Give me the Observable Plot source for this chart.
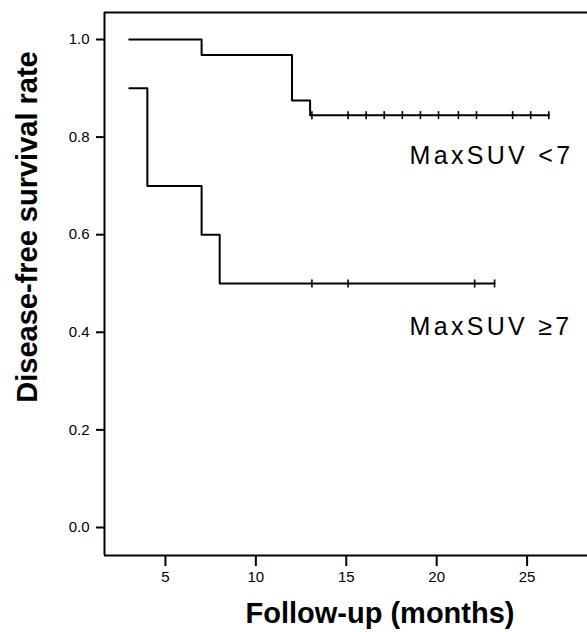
<!DOCTYPE html>
<html>
<head>
<meta charset="utf-8">
<script src="https://cdn.jsdelivr.net/npm/d3@7"></script>
<script src="https://cdn.jsdelivr.net/npm/@observablehq/plot@0.6"></script>
<style>
  html, body { margin: 0; padding: 0; background: #fff; }
  #chart svg { display: block; }
</style>
</head>
<body>
<div id="chart"></div>
<script>
// Kaplan–Meier step data (months, survival rate)
const lowSuvTime = [3, 7, 12, 13, 26.2];
const lowSuvSurv = [1.0, 0.968, 0.875, 0.845, 0.845];
const highSuvTime = [3, 4, 7, 8, 23.2];
const highSuvSurv = [0.9, 0.7, 0.6, 0.5, 0.5];
// censored observations (months)
const lowSuvCensor = [13.1, 15.1, 16.1, 17.1, 18.1, 19.1, 20.1, 21.2, 22.2, 24.2, 25.2, 26.2];
const lowSuvCensorSurv = 0.845;
const highSuvCensor = [13.1, 15.1, 22.1, 23.2];
const highSuvCensorSurv = 0.5;
// group labels
const groupLabels = ["MaxSUV <7", "MaxSUV \u22657"];
const groupLabelX = [18.5, 18.5];
const groupLabelY = [0.761, 0.41];
// axes
const xTicks = [5, 10, 15, 20, 25];
const yTicks = [0, 0.2, 0.4, 0.6, 0.8, 1.0];
const xDomain = [1.63, 28.34];
const yDomain = [-0.0574, 1.0553];
const xTitle = "Follow-up (months)";
const yTitle = "Disease-free survival rate";

const lowLine = lowSuvTime.map((t, i) => ({t, s: lowSuvSurv[i]}));
const highLine = highSuvTime.map((t, i) => ({t, s: highSuvSurv[i]}));
const censors = [
  ...lowSuvCensor.map(t => ({t, s: lowSuvCensorSurv})),
  ...highSuvCensor.map(t => ({t, s: highSuvCensorSurv}))
];
const labels = groupLabels.map((text, i) => ({text, x: groupLabelX[i], y: groupLabelY[i]}));

const vbar = {
  draw(context, size) {
    const r = Math.sqrt(size / Math.PI);
    context.moveTo(0, -r);
    context.lineTo(0, r);
  }
};

const font = "'Liberation Sans', Arial, Helvetica, sans-serif";

const chart = Plot.plot({
  width: 587,
  height: 632,
  marginLeft: 104,
  marginRight: 0,
  marginTop: 12,
  marginBottom: 77,
  style: {fontFamily: font, fontSize: "15px", background: "#fff", color: "#000"},
  x: {domain: xDomain},
  y: {domain: yDomain},
  marks: [
    Plot.ruleX([xDomain[0]], {stroke: "#000", strokeWidth: 2}),
    Plot.ruleY([yDomain[0]], {stroke: "#000", strokeWidth: 2}),
    Plot.ruleY([yDomain[1]], {stroke: "#000", strokeWidth: 2}),
    Plot.axisX({ticks: xTicks, tickSize: 11, tickPadding: 5, fontSize: 15, strokeWidth: 2, label: null}),
    Plot.axisY({ticks: yTicks, tickFormat: d3.format(".1f"), tickSize: 8, tickPadding: 7, fontSize: 15, strokeWidth: 2, label: null}),
    Plot.line(lowLine, {x: "t", y: "s", curve: "step-after", stroke: "#000", strokeWidth: 2}),
    Plot.line(highLine, {x: "t", y: "s", curve: "step-after", stroke: "#000", strokeWidth: 2}),
    Plot.dot(censors, {x: "t", y: "s", symbol: vbar, r: 4, stroke: "#000", strokeWidth: 1.6, fill: "none"}),
    Plot.text(labels, {x: "x", y: "y", text: "text", textAnchor: "start", fontSize: 25, fill: "#000"}),
    Plot.text([yTitle], {frameAnchor: "left", textAnchor: "middle", lineAnchor: "middle", rotate: -90, dx: -77, dy: -57, fontSize: 29, fontWeight: "bold", fill: "#000"}),
    Plot.text([xTitle], {frameAnchor: "bottom", textAnchor: "middle", lineAnchor: "middle", dx: 34, dy: 58, fontSize: 29, fontWeight: "bold", fill: "#000"})
  ]
});
// widen the group labels to match the original's letter spacing
d3.select(chart).selectAll("text")
  .filter(function() { return groupLabels.includes(this.textContent); })
  .style("letter-spacing", "3.3px");
document.getElementById("chart").appendChild(chart);
</script>
</body>
</html>
